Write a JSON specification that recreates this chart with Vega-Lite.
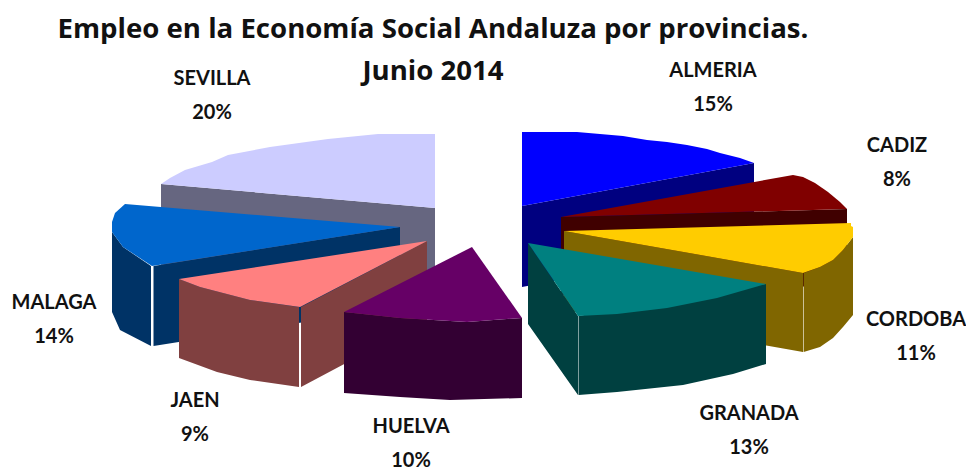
{
"$schema":"https://vega.github.io/schema/vega-lite/v6.json",
"width":966,"height":470,"padding":0,"autosize":{"type":"none"},"background":"white",
"title":{"text":["Empleo en la Economía Social Andaluza por provincias.","Junio 2014"],"anchor":"middle","dx":-50,"dy":86,"offset":0,"baseline":"top","font":"Open Sans","fontSize":27.6,"fontWeight":"bold","color":"#111111","lineHeight":42},
"config":{"view":{"stroke":null}},
"data":{"values":[
{"provincia":"SEVILLA","porcentaje":20,"etiqueta":"SEVILLA\n20%"},
{"provincia":"ALMERIA","porcentaje":15,"etiqueta":"ALMERIA\n15%"},
{"provincia":"CADIZ","porcentaje":8,"etiqueta":"CADIZ\n8%"},
{"provincia":"MALAGA","porcentaje":14,"etiqueta":"MALAGA\n14%"},
{"provincia":"CORDOBA","porcentaje":11,"etiqueta":"CORDOBA\n11%"},
{"provincia":"JAEN","porcentaje":9,"etiqueta":"JAEN\n9%"},
{"provincia":"GRANADA","porcentaje":13,"etiqueta":"GRANADA\n13%"},
{"provincia":"HUELVA","porcentaje":10,"etiqueta":"HUELVA\n10%"}
]},
"resolve":{"scale":{"color":"independent","shape":"independent"}},
"layer":[
{"mark":{"type":"point","filled":true,"size":4,"opacity":1},
"encoding":{
"shape":{"field":"provincia","type":"nominal","legend":null,"scale":{"domain":["SEVILLA","ALMERIA","CADIZ","MALAGA","CORDOBA","JAEN","GRANADA","HUELVA"],"range":[
"M-322,-51L-48,-27L-48,55L-322,31Z",
"M39,-29L271,-72L271,8L39,52Z",
"M78,-18L364,-26L364,50L78,60Z",
"M-371,-3L-360,12L-332,31L-332,111L-363,95L-371,77ZM-329.5,31L-83,-8L-83,72L-329.5,111Z",
"M81,-4L320,38L320,117L81,75ZM320.6,38L337,32L350,25L360,15L370,2L370,80L360,92L350,103L337,112L320.6,117Z",
"M-304,44L-283,52L-233,65L-184,72L-184,152L-233,145L-266,137L-304,123ZM-182,72L-56,6L-56,85L-182,152Z",
"M45,8L95,81L95,160L45,89ZM95.5,81L283,49L283,129L250,139L200,150L134,157L95.5,160Z",
"M-139,77L-83,83L-16,87L39,83L39,163L-33,165L-83,162L-139,158Z"
]}},
"color":{"field":"provincia","type":"nominal","legend":null,"scale":{"domain":["SEVILLA","ALMERIA","CADIZ","MALAGA","CORDOBA","JAEN","GRANADA","HUELVA"],"range":["#666680","#000080","#400000","#003366","#806600","#804040","#004040","#330033"]}}
}},
{"mark":{"type":"point","filled":true,"size":4,"opacity":1},
"encoding":{
"shape":{"field":"provincia","type":"nominal","legend":null,"scale":{"domain":["SEVILLA","ALMERIA","CADIZ","MALAGA","CORDOBA","JAEN","GRANADA","HUELVA"],"range":[
"M-48,-101L-105,-101L-155,-96L-213,-88L-255,-80L-271,-73L-298,-65L-313,-57L-322,-51L-48,-27Z",
"M39,-103L94,-103L117,-101L140,-99L164,-95L184,-93L204,-90L224,-86L237,-82L257,-77L271,-72L39,-29Z",
"M78,-18L310,-60L320,-58L332,-52L345,-43L357,-33L364,-26Z",
"M-83,-8L-358,-31L-368,-22L-371,-13L-371,-3L-360,12L-331,31Z",
"M81,-4L368,-12L368,-9L370,-8L370,2L360,15L350,25L337,32L320,38Z",
"M-56,6L-183,72L-233,65L-283,52L-304,44Z",
"M45,8L283,49L234,63L184,73L134,79L95,81Z",
"M-11,12L39,83L-16,87L-83,83L-139,77Z"
]}},
"color":{"field":"provincia","type":"nominal","legend":null,"scale":{"domain":["SEVILLA","ALMERIA","CADIZ","MALAGA","CORDOBA","JAEN","GRANADA","HUELVA"],"range":["#CCCCFF","#0000FF","#800000","#0066CC","#FFCC00","#FF8080","#008080","#660066"]}}
}},
{"transform":[{"filter":{"field":"provincia","equal":"SEVILLA"}}],"mark":{"type":"text","font":"Lato","fontSize":20,"fontWeight":"bold","color":"#111111","lineBreak":"\n","lineHeight":34,"align":"center","baseline":"middle","dx":-271,"dy":-156.5},"encoding":{"text":{"field":"etiqueta"}}},
{"transform":[{"filter":{"field":"provincia","equal":"ALMERIA"}}],"mark":{"type":"text","font":"Lato","fontSize":20,"fontWeight":"bold","color":"#111111","lineBreak":"\n","lineHeight":34,"align":"center","baseline":"middle","dx":230,"dy":-164.5},"encoding":{"text":{"field":"etiqueta"}}},
{"transform":[{"filter":{"field":"provincia","equal":"CADIZ"}}],"mark":{"type":"text","font":"Lato","fontSize":20,"fontWeight":"bold","color":"#111111","lineBreak":"\n","lineHeight":34,"align":"center","baseline":"middle","dx":414,"dy":-89},"encoding":{"text":{"field":"etiqueta"}}},
{"transform":[{"filter":{"field":"provincia","equal":"CORDOBA"}}],"mark":{"type":"text","font":"Lato","fontSize":20,"fontWeight":"bold","color":"#111111","lineBreak":"\n","lineHeight":34,"align":"center","baseline":"middle","dx":433,"dy":85},"encoding":{"text":{"field":"etiqueta"}}},
{"transform":[{"filter":{"field":"provincia","equal":"GRANADA"}}],"mark":{"type":"text","font":"Lato","fontSize":20,"fontWeight":"bold","color":"#111111","lineBreak":"\n","lineHeight":34,"align":"center","baseline":"middle","dx":266,"dy":179},"encoding":{"text":{"field":"etiqueta"}}},
{"transform":[{"filter":{"field":"provincia","equal":"HUELVA"}}],"mark":{"type":"text","font":"Lato","fontSize":20,"fontWeight":"bold","color":"#111111","lineBreak":"\n","lineHeight":34,"align":"center","baseline":"middle","dx":-72,"dy":192},"encoding":{"text":{"field":"etiqueta"}}},
{"transform":[{"filter":{"field":"provincia","equal":"JAEN"}}],"mark":{"type":"text","font":"Lato","fontSize":20,"fontWeight":"bold","color":"#111111","lineBreak":"\n","lineHeight":34,"align":"center","baseline":"middle","dx":-288,"dy":166},"encoding":{"text":{"field":"etiqueta"}}},
{"transform":[{"filter":{"field":"provincia","equal":"MALAGA"}}],"mark":{"type":"text","font":"Lato","fontSize":20,"fontWeight":"bold","color":"#111111","lineBreak":"\n","lineHeight":34,"align":"center","baseline":"middle","dx":-429,"dy":68},"encoding":{"text":{"field":"etiqueta"}}}
]
}
